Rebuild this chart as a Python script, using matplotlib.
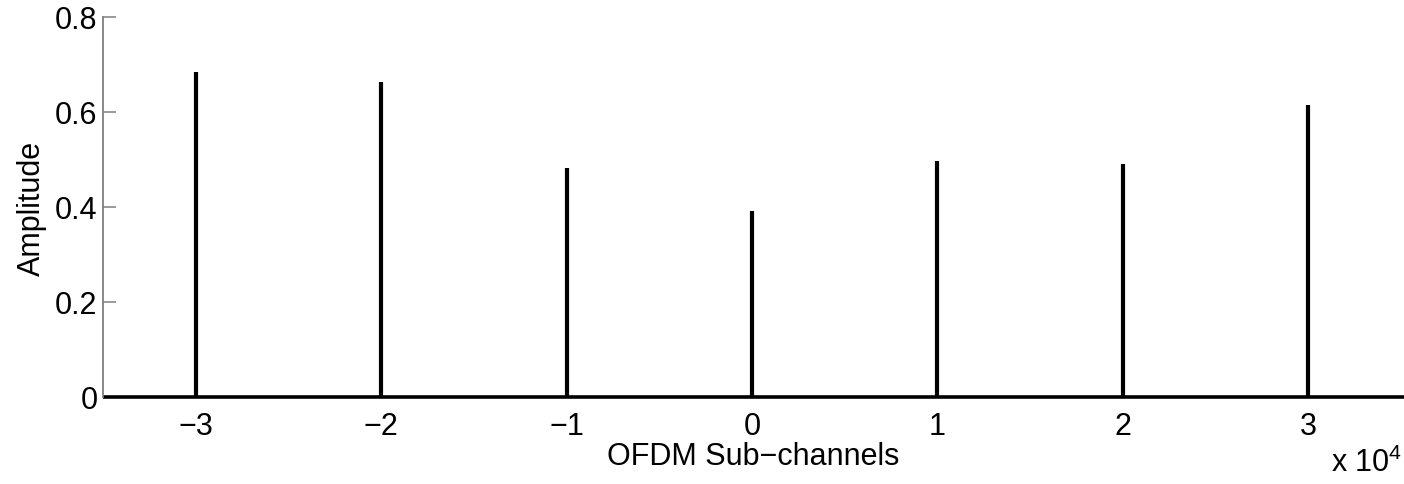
import matplotlib.pyplot as plt
from matplotlib.ticker import FuncFormatter

plt.rcParams['font.family'] = ['Liberation Sans', 'DejaVu Sans']
plt.rcParams['mathtext.fontset'] = 'custom'
plt.rcParams['mathtext.rm'] = 'Liberation Sans'
plt.rcParams['mathtext.default'] = 'regular'

# sub-channel centres and their amplitudes
subchannels = [-30000, -20000, -10000, 0, 10000, 20000, 30000]
amplitudes = [0.684, 0.663, 0.482, 0.392, 0.497, 0.491, 0.615]
x_range = [-35000, 35170]
y_ticks = [0, 0.2, 0.4, 0.6, 0.8]

fig = plt.figure(figsize=(14.04, 4.85), dpi=100)
ax = fig.add_axes([0.0734, 0.1794, 0.9266, 0.7836])

# zero floor of the spectrum, then the carriers
ax.plot(x_range, [0, 0], color='black', lw=2.6, solid_capstyle='butt', clip_on=False)
ax.vlines(subchannels, 0, amplitudes, color='black', lw=3.0)

ax.set_xlim(x_range)
ax.set_ylim(0, 0.8)
ax.set_yticks(y_ticks)
ax.set_xticks(subchannels)
ax.xaxis.set_major_formatter(FuncFormatter(lambda v, p: f"{v / 1e4:g}".replace('-', '\u2212')))
ax.yaxis.set_major_formatter(FuncFormatter(lambda v, p: f"{v:g}"))

for s in ['top', 'right', 'bottom']:
    ax.spines[s].set_visible(False)
ax.spines['left'].set_color('#7f7f7f')
ax.spines['left'].set_linewidth(1.3)

ax.tick_params(axis='y', direction='in', length=9, width=1.1, color='#7f7f7f',
               labelsize=22, pad=4)
ax.tick_params(axis='x', direction='in', length=0, labelsize=22, pad=10)

ax.set_xlabel('OFDM Sub\u2212channels', fontsize=22, labelpad=0)
ax.set_ylabel('Amplitude', fontsize=22, labelpad=6)

fig.text(0.9985, 0.012, r'x 10$^{4}$', fontsize=22, ha='right', va='bottom')

fig.savefig('out.png', dpi=100)
